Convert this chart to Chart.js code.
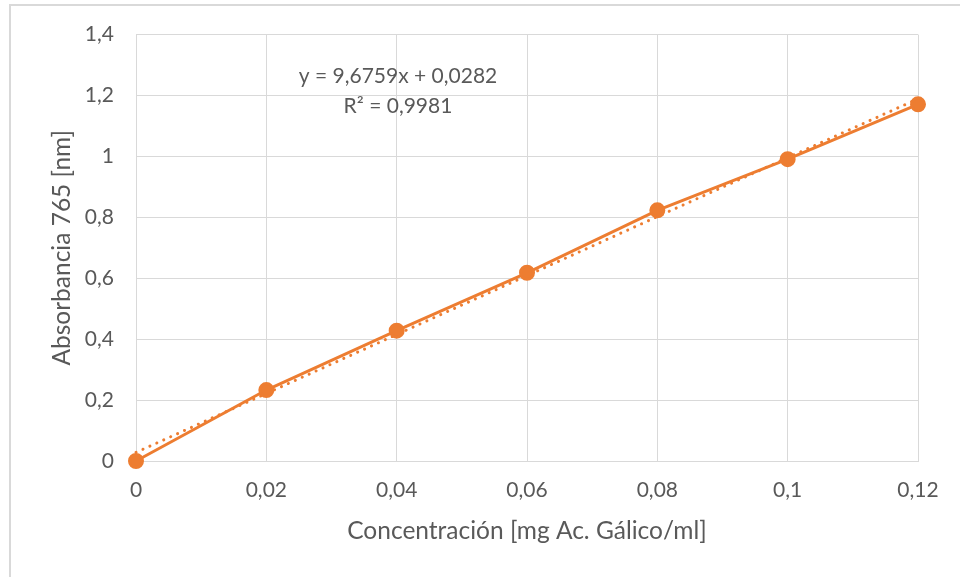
<!DOCTYPE html>
<html>
<head>
<meta charset="utf-8">
<script src="https://cdn.jsdelivr.net/npm/chart.js@4.4.1/dist/chart.umd.min.js"></script>
<style>
    html, body { margin: 0; padding: 0; background: #fff; overflow: hidden; }
    #wrap { position: relative; width: 960px; height: 577px; }
    #frame { position: absolute; left: 9px; top: 4px; width: 1000px; height: 700px; border: 2px solid #d9d9d9; box-sizing: border-box; }
    canvas { position: absolute; left: 0; top: 0; }
</style>
</head>
<body>
<div id="wrap">
    <div id="frame"></div>
    <canvas id="chart" width="960" height="577"></canvas>
</div>
<script>
// Calibration data: gallic acid concentration vs absorbance at 765
const concentrations = [0, 0.02, 0.04, 0.06, 0.08, 0.1, 0.12];
const absorbances = [0, 0.233, 0.428, 0.618, 0.823, 0.991, 1.171];

// Linear trendline coefficients
const slope = 9.6759;
const intercept = 0.0282;
const rSquared = 0.9981;

const xTicks = [0, 0.02, 0.04, 0.06, 0.08, 0.1, 0.12];
const yTicks = [0, 0.2, 0.4, 0.6, 0.8, 1, 1.2, 1.4];

const ORANGE = '#ED7D31';
const GRID = '#D9D9D9';
const TEXT = '#595959';
const FONT = 'Lato, "Liberation Sans", sans-serif';

const fmt = (v, digits) => String(parseFloat(v.toFixed(digits))).replace('.', ',');

const trendStart = concentrations[0];
const trendEnd = concentrations[concentrations.length - 1];

// Equation + R² label drawn over the plot
const equationLabel = {
    id: 'equationLabel',
    afterDatasetsDraw(chart) {
        const ctx = chart.ctx;
        const area = chart.chartArea;
        const cx = area.left + 262;
        ctx.save();
        ctx.fillStyle = TEXT;
        ctx.font = '21px ' + FONT;
        ctx.textAlign = 'center';
        ctx.textBaseline = 'middle';
        ctx.fillText('y = ' + fmt(slope, 4) + 'x + ' + fmt(intercept, 4), cx, area.top + 42);
        ctx.fillText('R² = ' + fmt(rSquared, 4), cx, area.top + 72);
        ctx.restore();
    }
};

const ctx = document.getElementById('chart').getContext('2d');

new Chart(ctx, {
    type: 'scatter',
    data: {
        datasets: [
            {
                label: 'Absorbancia',
                data: concentrations.map((x, i) => ({ x: x, y: absorbances[i] })),
                showLine: true,
                clip: false,
                borderColor: ORANGE,
                backgroundColor: ORANGE,
                borderWidth: 3,
                pointRadius: 6.5,
                pointHoverRadius: 6.5,
                order: 1
            },
            {
                label: 'Lineal',
                data: [
                    { x: trendStart, y: slope * trendStart + intercept },
                    { x: trendEnd, y: slope * trendEnd + intercept }
                ],
                showLine: true,
                clip: false,
                borderColor: ORANGE,
                borderWidth: 3,
                borderDash: [0.1, 7.5],
                borderCapStyle: 'round',
                pointRadius: 0,
                order: 2
            }
        ]
    },
    options: {
        responsive: false,
        animation: false,
        layout: { padding: { top: 33, right: 42, bottom: 0, left: 0 } },
        plugins: {
            legend: { display: false },
            tooltip: { enabled: false }
        },
        scales: {
            x: {
                type: 'linear',
                min: 0,
                max: 0.12,
                afterFit: (scale) => { scale.height = 116; },
                afterBuildTicks: (scale) => { scale.ticks = xTicks.map(v => ({ value: v })); },
                grid: { color: GRID, lineWidth: 1, drawTicks: false },
                border: { color: GRID, width: 1 },
                ticks: {
                    color: TEXT,
                    font: { family: FONT, size: 21 },
                    padding: 17,
                    maxRotation: 0,
                    callback: (v) => fmt(v, 2)
                },
                title: {
                    display: true,
                    text: 'Concentración [mg Ac. Gálico/ml]',
                    color: TEXT,
                    font: { family: FONT, size: 24.5 },
                    padding: { top: 4, bottom: 31 }
                }
            },
            y: {
                min: 0,
                max: 1.4,
                afterFit: (scale) => { scale.width = 136; },
                afterBuildTicks: (scale) => { scale.ticks = yTicks.map(v => ({ value: v })); },
                grid: { color: GRID, lineWidth: 1, drawTicks: false },
                border: { display: false },
                ticks: {
                    color: TEXT,
                    font: { family: FONT, size: 21 },
                    padding: 22,
                    callback: (v) => fmt(v, 1)
                },
                title: {
                    display: true,
                    text: 'Absorbancia 765 [nm]',
                    color: TEXT,
                    font: { family: FONT, size: 24.5 },
                    padding: { top: 47, bottom: 0 }
                }
            }
        }
    },
    plugins: [equationLabel]
});
</script>
</body>
</html>
